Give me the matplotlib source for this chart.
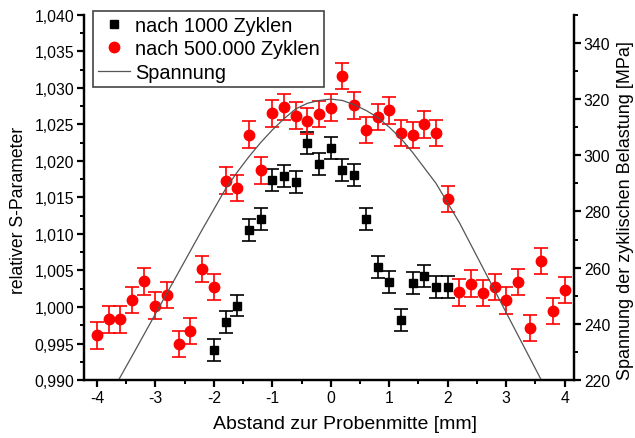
import matplotlib.pyplot as plt
from matplotlib.lines import Line2D
from matplotlib.ticker import MultipleLocator, FuncFormatter

plt.rcParams['font.family'] = ['Liberation Sans', 'DejaVu Sans']

# Messwerte nach 1000 Zyklen (schwarz)
x_1000 = [-2.0, -1.8, -1.6, -1.4, -1.2, -1.0, -0.8, -0.6, -0.4, -0.2, 0.0,
          0.2, 0.4, 0.6, 0.8, 1.0, 1.2, 1.4, 1.6, 1.8, 2.0]
s_1000 = [0.9941, 0.9979, 1.0002, 1.0106, 1.0120, 1.0174, 1.0179, 1.0171,
          1.0224, 1.0196, 1.0218, 1.0188, 1.0181, 1.0121, 1.0055, 1.0034,
          0.9982, 1.0033, 1.0042, 1.0027, 1.0027]
err_1000 = 0.0015

# Messwerte nach 500.000 Zyklen (rot)
x_500k = [-4.0, -3.8, -3.6, -3.4, -3.2, -3.0, -2.8, -2.6, -2.4, -2.2, -2.0,
          -1.8, -1.6, -1.4, -1.2, -1.0, -0.8, -0.6, -0.4, -0.2, 0.0,
          0.2, 0.4, 0.6, 0.8, 1.0, 1.2, 1.4, 1.6, 1.8, 2.0,
          2.2, 2.4, 2.6, 2.8, 3.0, 3.2, 3.4, 3.6, 3.8, 4.0]
s_500k = [0.9961, 0.9983, 0.9983, 1.0010, 1.0035, 1.0002, 1.0016, 0.9949,
          0.9967, 1.0052, 1.0027, 1.0173, 1.0163, 1.0236, 1.0187, 1.0265,
          1.0274, 1.0262, 1.0255, 1.0264, 1.0273, 1.0316, 1.0276, 1.0242,
          1.0260, 1.0269, 1.0238, 1.0235, 1.0250, 1.0238, 1.0148,
          1.0020, 1.0032, 1.0019, 1.0027, 1.0009, 1.0034, 0.9971, 1.0063,
          0.9995, 1.0023]
err_500k = 0.0018

# Spannung der zyklischen Belastung (rechte Achse)
x_sp = [-3.75, -3.4, -3.0, -2.6, -2.2, -1.8, -1.6, -1.4, -1.2, -1.0, -0.8,
        -0.6, -0.4, -0.2, 0.0, 0.2, 0.4, 0.6, 0.8, 1.0, 1.2, 1.4, 1.6,
        1.8, 2.2, 2.6, 3.0, 3.4, 3.75]
sp = [215.5, 228.5, 243.5, 258.5, 273.5, 288.0, 294.0, 299.5, 304.5, 309.0,
      313.0, 316.5, 318.5, 319.5, 320.0, 319.5, 318.0, 316.0, 313.5, 310.0,
      306.0, 301.0, 295.5, 290.0, 276.0, 260.0, 244.0, 228.0, 214.0]

fig = plt.figure(figsize=(6.35, 4.39), dpi=100)
ax = fig.add_axes([0.1323, 0.132, 0.7717, 0.832])
ax2 = ax.twinx()

ax.errorbar(x_1000, s_1000, yerr=err_1000, fmt='s', color='black', ms=6,
            ecolor='black', elinewidth=1.2, capsize=5, capthick=1.2, zorder=3)
ax.errorbar(x_500k, s_500k, yerr=err_500k, fmt='o', color='#ff0000', ms=7.5,
            ecolor='#ff0000', elinewidth=1.2, capsize=5, capthick=1.2, zorder=3)
ax2.plot(x_sp, sp, color='#555555', lw=0.9)

ax.set_xlim(-4.22, 4.16)
ax.set_ylim(0.990, 1.040)
ax2.set_ylim(220, 350)

komma = FuncFormatter(lambda v, p: ('%.3f' % v).replace('.', ','))
ax.yaxis.set_major_locator(MultipleLocator(0.005))
ax.yaxis.set_minor_locator(MultipleLocator(0.0025))
ax.yaxis.set_major_formatter(komma)
ax.xaxis.set_major_locator(MultipleLocator(1))
ax.xaxis.set_minor_locator(MultipleLocator(0.5))
ax.xaxis.set_major_formatter(FuncFormatter(lambda v, p: '%d' % v))
ax2.yaxis.set_major_locator(MultipleLocator(20))
ax2.yaxis.set_minor_locator(MultipleLocator(10))

for a in (ax, ax2):
    for side in ('left', 'right', 'bottom'):
        a.spines[side].set_linewidth(1.6)
    a.spines['top'].set_visible(False)
    a.tick_params(which='major', direction='out', length=5, width=1.6,
                  labelsize=11.3, pad=2, color='black')
    a.tick_params(which='minor', direction='out', length=3, width=1.4)

ax.set_xlabel('Abstand zur Probenmitte [mm]', fontsize=14)
ax.xaxis.set_label_coords(0.533, -0.095)
ax.set_ylabel('relativer S-Parameter', fontsize=12.7)
ax.yaxis.set_label_coords(-0.116, 0.466)
ax2.set_ylabel('Spannung der zyklischen Belastung [MPa]', fontsize=13)
ax2.yaxis.set_label_coords(1.087, 0.466)

handles = [Line2D([], [], marker='s', ls='none', color='black', ms=6),
           Line2D([], [], marker='o', ls='none', color='#ff0000', ms=7.5),
           Line2D([], [], color='#555555', lw=0.9)]
labels = ['nach 1000 Zyklen', 'nach 500.000 Zyklen', 'Spannung']
leg = fig.legend(handles, labels, loc='upper left',
                 bbox_to_anchor=(93 / 635, 1 - 12 / 439), fontsize=14.3,
                 fancybox=False, edgecolor='#444444', framealpha=1,
                 borderpad=0.25, labelspacing=0.22, handlelength=1.6,
                 handletextpad=0.25, borderaxespad=0)
leg.get_frame().set_linewidth(1.2)

fig.savefig('out.png', dpi=100)
